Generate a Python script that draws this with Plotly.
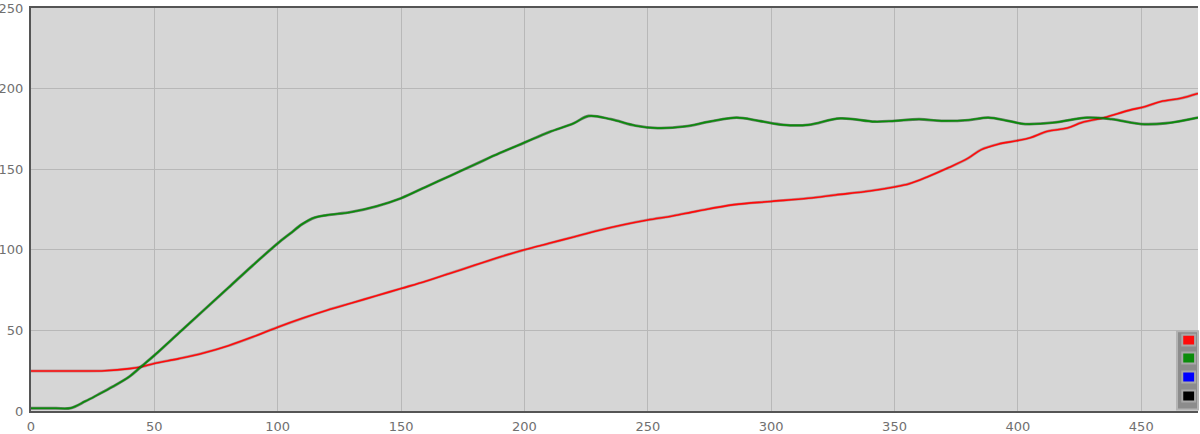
import plotly.graph_objects as go

# valores
red_x = [0, 20, 30, 40, 45, 50, 60, 70, 80, 90, 100, 110, 120, 130, 140, 150, 160, 170, 180, 190,
         200, 210, 220, 230, 240, 250, 260, 270, 285, 300, 315, 326, 340, 350, 356, 363, 372, 380,
         385, 392, 399, 405, 412, 420, 426, 435, 445, 452, 458, 466, 473]
red_y = [24.8, 24.8, 25, 26.3, 27.5, 29.5, 32.5, 36, 40.5, 46, 52, 57.5, 62.5, 67, 71.5, 76, 80.5,
         85.5, 90.5, 95.5, 100, 104, 108, 112, 115.5, 118.5, 121, 124, 128, 130, 132, 134, 136.5,
         139, 141, 145, 151, 157, 162, 165.5, 167.5, 169.5, 173.5, 175.5, 179, 182, 186.5, 189,
         192, 194, 197]

green_x = [0, 10, 16, 22, 27, 33, 40, 45, 50, 60, 70, 80, 90, 100, 105, 110, 115, 120, 130, 140,
           150, 160, 170, 180, 190, 200, 210, 220, 226, 235, 245, 254, 265, 275, 286, 295, 305,
           315, 328, 342, 350, 360, 369, 380, 388, 396, 403, 415, 428, 438, 450, 460, 473]
green_y = [1.7, 1.7, 1.8, 6, 10, 15, 21.5, 28, 34.5, 48.5, 62.5, 76.5, 90.5, 104, 110, 116, 120, 121.5,
           123.5, 127, 132, 139, 146, 153, 160, 166.5, 173, 178.5, 183, 181, 177, 175.5, 176.5,
           179.5, 182, 180, 177.5, 177.5, 181.5, 179.5, 180, 181, 180, 180.5, 182, 180, 178, 179,
           182, 181, 178, 178.5, 182]

# azul e preto aparecem só na legenda (sem dados visíveis)
blue_x, blue_y = [], []
black_x, black_y = [], []

series = [
    ("red", red_x, red_y, "#ff0a0a", "rgba(110,0,0,0.3)"),
    ("green", green_x, green_y, "#0a8c0a", "rgba(0,40,0,0.5)"),
    ("blue", blue_x, blue_y, "#0000ff", "rgba(0,0,60,0.5)"),
    ("black", black_x, black_y, "#000000", "rgba(0,0,0,0.5)"),
]

fig = go.Figure()

for name, xs, ys, cor, sombra in series:
    # sombra por baixo para dar o contorno escuro da linha
    fig.add_trace(go.Scatter(x=xs, y=ys, mode="lines", line=dict(color=sombra, width=2.8, shape="spline"),
                             hoverinfo="skip", showlegend=False))
    fig.add_trace(go.Scatter(x=xs, y=ys, mode="lines", name=name,
                             line=dict(color=cor, width=1.6, shape="spline"), showlegend=False))

# caixinha da legenda no canto inferior direito
shapes = [dict(type="rect", xref="paper", yref="paper", x0=0.982, x1=1.0, y0=0.004, y1=0.198,
               fillcolor="#8c8c8c", line=dict(color="#b4b4b4", width=2), layer="above")]
centros = [0.176, 0.1315, 0.0844, 0.0372]
for (name, xs, ys, cor, sombra), yc in zip(series, centros):
    shapes.append(dict(type="rect", xref="paper", yref="paper", x0=0.9865, x1=0.9975,
                       y0=yc - 0.0135, y1=yc + 0.0135, fillcolor=cor,
                       line=dict(color="#a8a8a8", width=2), layer="above"))

fig.update_layout(
    width=1200, height=434,
    margin=dict(l=31, r=2, t=8, b=23, autoexpand=False),
    paper_bgcolor="white",
    plot_bgcolor="#d6d6d6",
    font=dict(family="DejaVu Sans", size=13, color="#707070"),
    showlegend=False,
    shapes=shapes,
)

fig.update_xaxes(range=[0, 473], dtick=50, tick0=0, showgrid=True, gridcolor="#b8b8b8", gridwidth=1,
                 zeroline=False, showline=True, linecolor="#555555", linewidth=2, mirror=True,
                 ticks="", automargin=False, ticklabelstandoff=2,
                 tickfont=dict(size=13, color="#707070"))
fig.update_yaxes(range=[0, 250], dtick=50, tick0=0, showgrid=True, gridcolor="#b8b8b8", gridwidth=1,
                 zeroline=False, showline=True, linecolor="#555555", linewidth=2, mirror=False,
                 ticks="", automargin=False, ticklabelstandoff=3,
                 tickfont=dict(size=13, color="#707070"))

# tira a margem padrão da página para o gráfico ocupar a janela toda
fig.write_html("out.html", config={"displayModeBar": False},
               post_script="document.body.style.margin='0px';")
